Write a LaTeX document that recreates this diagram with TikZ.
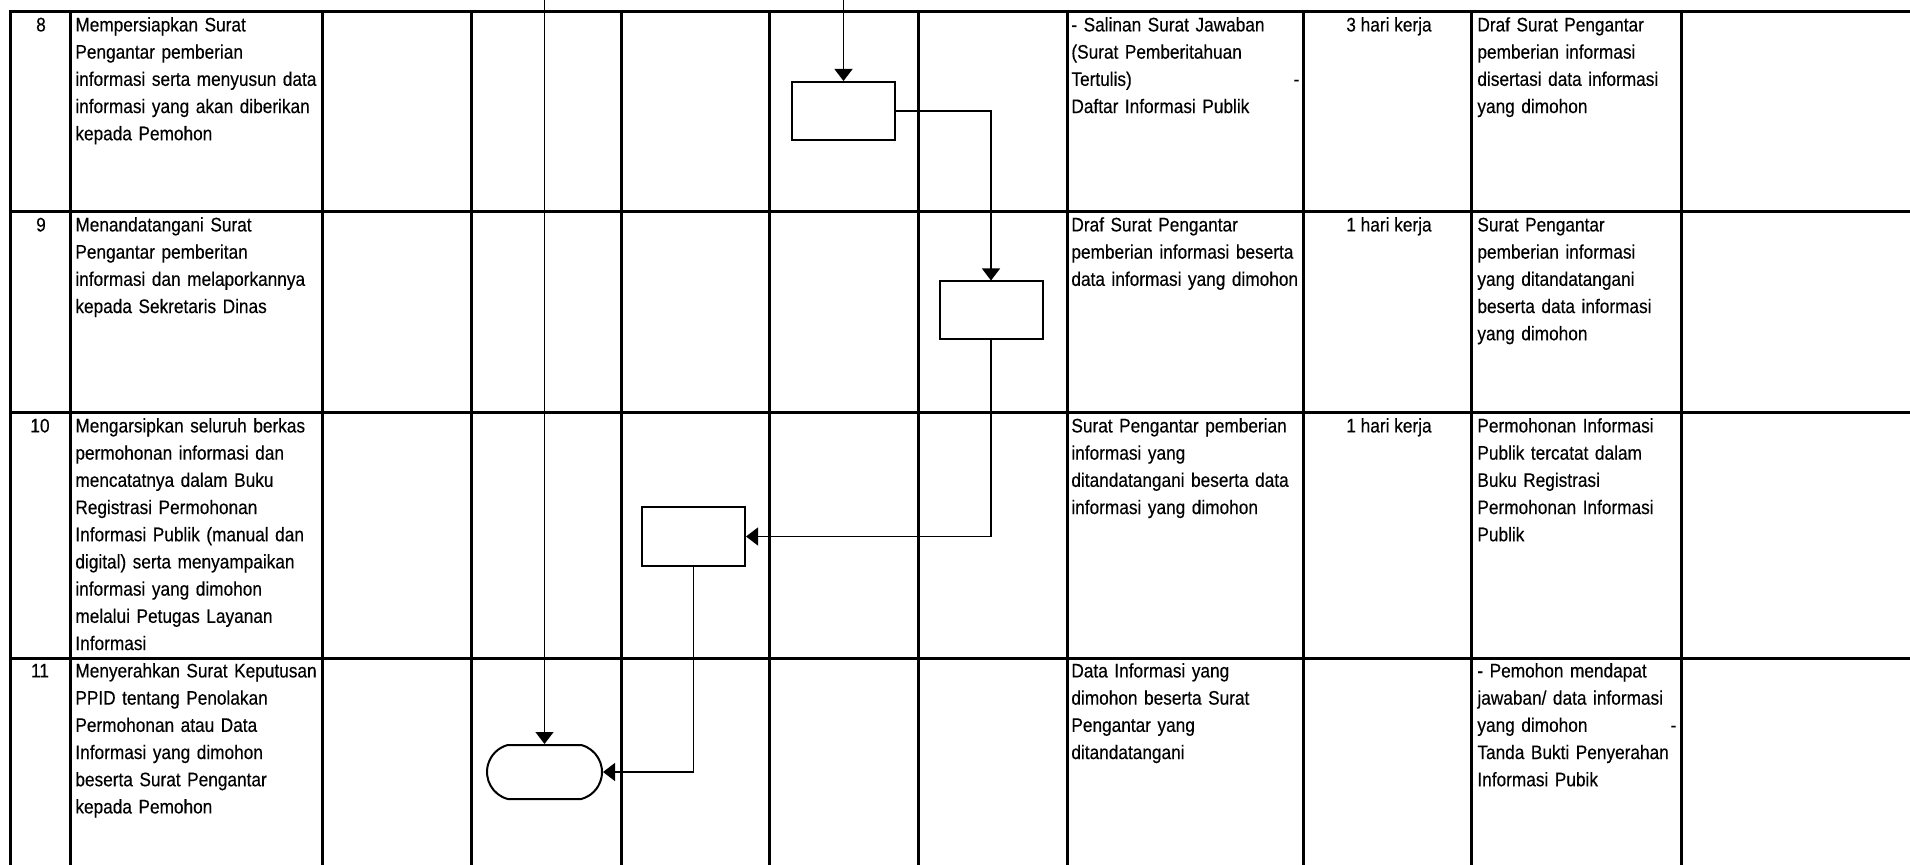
\documentclass[tikz,border=0pt]{standalone}
\usepackage{fontspec}
\setmainfont{Liberation Sans}[FakeStretch=0.88,FakeBold=0.3]
\usetikzlibrary{arrows.meta,shapes.misc}
\newcommand\cellfont{\fontsize{9.8}{13.6}\selectfont}
\begin{document}
\begin{tikzpicture}[x=0.5pt,y=-0.5pt,
  gridline/.style={line width=1.5pt,line cap=rect},
  flow/.style={line width=0.6pt,-{Triangle[length=6pt,width=9pt]}},
  procbox/.style={draw,line width=1pt,minimum width=51.5pt,minimum height=29pt,inner sep=0pt},
  endbox/.style={draw,line width=1pt,rounded rectangle,rounded rectangle arc length=150,minimum width=57.5pt,minimum height=27pt,inner sep=0pt},
  celltxt/.style={anchor=north west,inner sep=0pt,align=left,text width=150pt,font=\cellfont,execute at begin node=\strut},
  numtxt/.style={anchor=north,inner sep=0pt,font=\cellfont,execute at begin node=\strut},
]
\useasboundingbox (0,0) rectangle (1910,865);
% grid
\foreach \x in {10,70,322,471,621,769,918,1067,1303,1471,1681}
  \draw[gridline] (\x,12) -- (\x,865);
\foreach \y in {12,212,413,658}
  \draw[gridline] (10,\y) -- (1910,\y);

% row 8
\node[numtxt] (n8) at (41,12) {8};
\node[celltxt] (d8) at (75,12) {Mempersiapkan Surat\\Pengantar pemberian\\informasi serta menyusun data\\informasi yang akan diberikan\\kepada Pemohon};
\node[celltxt] (i8) at (1071,12) {- Salinan Surat Jawaban\\(Surat Pemberitahuan\\\makebox[114pt][l]{Tertulis)\hfill-}\\Daftar Informasi Publik};
\node[numtxt] (w8) at (1389,12) {3 hari kerja};
\node[celltxt] (o8) at (1477,12) {Draf Surat Pengantar\\pemberian informasi\\disertasi data informasi\\yang dimohon};

% row 9
\node[numtxt] (n9) at (41,212) {9};
\node[celltxt] (d9) at (75,212) {Menandatangani Surat\\Pengantar pemberitan\\informasi dan melaporkannya\\kepada Sekretaris Dinas};
\node[celltxt] (i9) at (1071,212) {Draf Surat Pengantar\\pemberian informasi beserta\\data informasi yang dimohon};
\node[numtxt] (w9) at (1389,212) {1 hari kerja};
\node[celltxt] (o9) at (1477,212) {Surat Pengantar\\pemberian informasi\\yang ditandatangani\\beserta data informasi\\yang dimohon};

% row 10
\node[numtxt] (n10) at (40,413) {10};
\node[celltxt] (d10) at (75,413) {Mengarsipkan seluruh berkas\\permohonan informasi dan\\mencatatnya dalam Buku\\Registrasi Permohonan\\Informasi Publik (manual dan\\digital) serta menyampaikan\\informasi yang dimohon\\melalui Petugas Layanan\\Informasi};
\node[celltxt] (i10) at (1071,413) {Surat Pengantar pemberian\\informasi yang\\ditandatangani beserta data\\informasi yang dimohon};
\node[numtxt] (w10) at (1389,413) {1 hari kerja};
\node[celltxt] (o10) at (1477,413) {Permohonan Informasi\\Publik tercatat dalam\\Buku Registrasi\\Permohonan Informasi\\Publik};

% row 11
\node[numtxt] (n11) at (40,658) {11};
\node[celltxt] (d11) at (75,658) {Menyerahkan Surat Keputusan\\PPID tentang Penolakan\\Permohonan atau Data\\Informasi yang dimohon\\beserta Surat Pengantar\\kepada Pemohon};
\node[celltxt] (i11) at (1071,658) {Data Informasi yang\\dimohon beserta Surat\\Pengantar yang\\ditandatangani};
\node[celltxt] (o11) at (1477,658) {- Pemohon mendapat\\jawaban/ data informasi\\\makebox[99.5pt][l]{yang dimohon\hfill-}\\Tanda Bukti Penyerahan\\Informasi Pubik};

% flow shapes
\node[procbox] (b8) at (843.5,111) {};
\node[procbox] (b9) at (991,310.5) {};
\node[procbox] (b10) at (693.5,536.5) {};
\node[endbox] (t11) at (544.5,772) {};
\coordinate (top8) at (843.5,0);
\coordinate (topT) at (544.5,0);

\draw[flow] (top8) -- (b8.north);
\draw[flow] (topT) -- (t11.north);
\draw[flow] (b8.east) -| (b9.north);
\draw[flow] (b9.south) |- (b10.east);
\draw[flow] (b10.south) |- (t11.east);
\end{tikzpicture}
\end{document}
